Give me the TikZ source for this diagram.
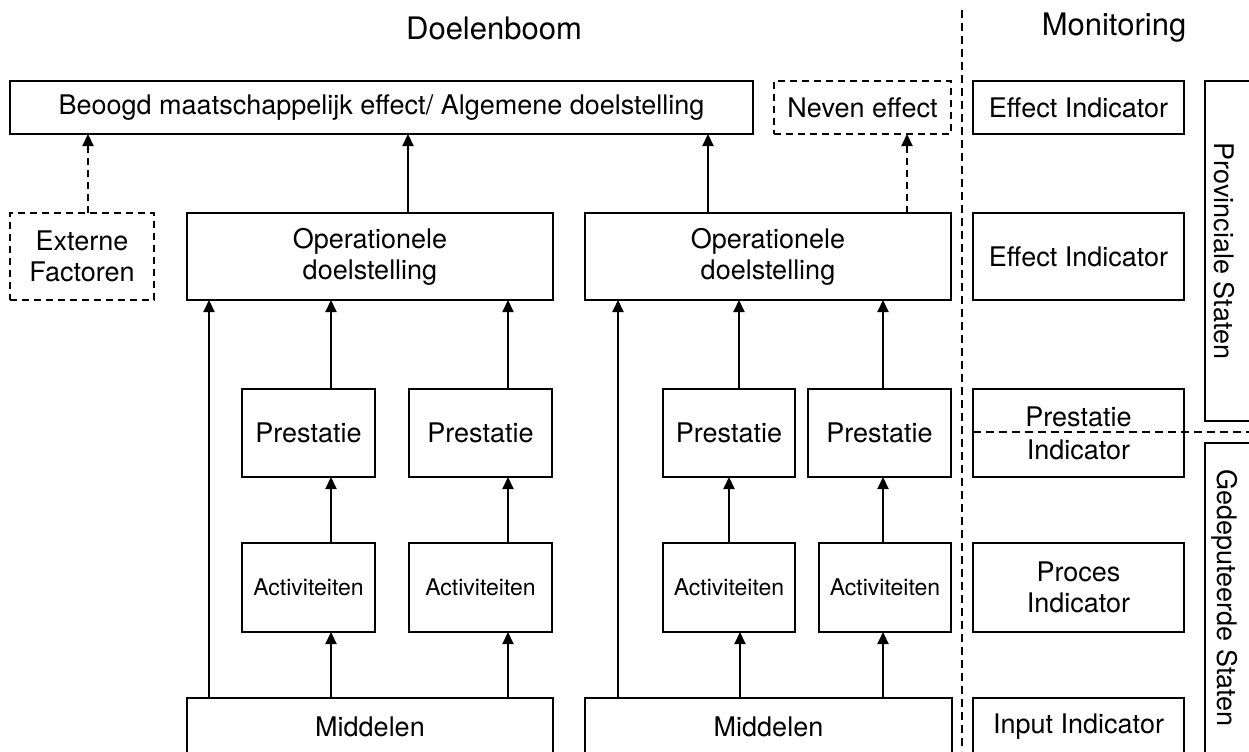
\documentclass[tikz,border=0pt]{standalone}
\usepackage{fontspec}
\setmainfont{TeX Gyre Heros}
\usetikzlibrary{arrows.meta}
\begin{document}
\begin{tikzpicture}[x=0.5pt,y=-0.5pt,
  box/.style={draw,line width=1.1pt,inner sep=0pt,outer sep=0pt,align=center,font=\fontsize{13.5}{15.5}\selectfont},
  dbox/.style={box,dash pattern=on 3.5pt off 2.5pt},
  small/.style={font=\fontsize{11.5}{13.5}\selectfont},
  mbox/.style={box,line width=0.9pt},
  arr/.style={line width=1.1pt,-{Triangle[length=6pt,width=5.5pt]}},
  darr/.style={arr,dash pattern=on 3.5pt off 2.5pt},
  sep/.style={line width=0.9pt,dash pattern=on 4pt off 2.5pt},
  title/.style={font=\fontsize{15.5}{18}\selectfont,inner sep=0pt},
  side/.style={font=\fontsize{13.5}{15.5}\selectfont,rotate=-90,inner sep=0pt}
]
\useasboundingbox (0,0) rectangle (1249,751);
\clip (0,0) rectangle (1249,751);
% titles
\node[title] (t1) at (494,28) {Doelenboom};
\node[title] (t2) at (1114,28) {Monitoring};
% separator
\coordinate (s1) at (962,10);
\coordinate (s2) at (962,751);
\draw[sep] (s1) -- (s2);
% doelenboom boxes
\node[box,minimum width=371.5pt,minimum height=26.5pt] (top) at (381.5,107.5) {Beoogd maatschappelijk effect/ Algemene doelstelling};
\node[dbox,minimum width=88.5pt,minimum height=26.5pt] (nev) at (862.5,107.5) {Neven effect};
\node[dbox,minimum width=72pt,minimum height=43.5pt] (ext) at (82,256.5) {Externe\\Factoren};
\node[box,minimum width=183pt,minimum height=43.5pt] (op1) at (370,256.5) {Operationele\\doelstelling};
\node[box,minimum width=183pt,minimum height=43.5pt] (op2) at (768,256.5) {Operationele\\doelstelling};
\node[box,minimum width=66.5pt,minimum height=44pt] (p1) at (308.5,433) {Prestatie};
\node[box,minimum width=71.5pt,minimum height=44pt] (p2) at (480.5,433) {Prestatie};
\node[box,minimum width=66pt,minimum height=44pt] (p3) at (729,433) {Prestatie};
\node[box,minimum width=71.5pt,minimum height=44pt] (p4) at (879.5,433) {Prestatie};
\node[box,small,minimum width=66.5pt,minimum height=44.5pt] (a1) at (308.5,587.5) {Activiteiten};
\node[box,small,minimum width=71.5pt,minimum height=44.5pt] (a2) at (480.5,587.5) {Activiteiten};
\node[box,small,minimum width=66pt,minimum height=44.5pt] (a3) at (729,587.5) {Activiteiten};
\node[box,small,minimum width=66pt,minimum height=44.5pt] (a4) at (885,587.5) {Activiteiten};
\node[box,minimum width=183pt,minimum height=29pt] (m1) at (370,727) {Middelen};
\node[box,minimum width=183.5pt,minimum height=29pt] (m2) at (768.5,727) {Middelen};
% monitoring boxes
\node[mbox,minimum width=105.5pt,minimum height=26.5pt] (mi1) at (1078.5,107.5) {Effect Indicator};
\node[mbox,minimum width=105.5pt,minimum height=43.5pt] (mi2) at (1078.5,256.5) {Effect Indicator};
\node[mbox,minimum width=105.5pt,minimum height=44pt] (mi3) at (1078.5,433) {Prestatie\\[1pt]Indicator};
\node[mbox,minimum width=105.5pt,minimum height=44.5pt] (mi4) at (1078.5,587.5) {Proces\\Indicator};
\node[mbox,minimum width=105.5pt,minimum height=29pt] (mi5) at (1078.5,727) {Input Indicator};
% side brackets
\draw[line width=0.9pt] (1290,81) -- (1205,81) -- (1205,421) -- (1290,421);
\draw[line width=0.9pt] (1290,443) -- (1205,443) -- (1205,800);
\node[side] (ps) at (1224,251) {Provinciale Staten};
\node[side] (gs) at (1225,598) {Gedeputeerde Staten};
\coordinate (e1) at (1249,432);
\draw[sep] (mi3.west |- e1) -- (e1);
% column coordinates
\coordinate (x88) at (88,0);
\coordinate (x209) at (209,0);
\coordinate (x331) at (331,0);
\coordinate (x408) at (408,0);
\coordinate (x508) at (508,0);
\coordinate (x618) at (618,0);
\coordinate (x708) at (708,0);
\coordinate (x729) at (729,0);
\coordinate (x739) at (739,0);
\coordinate (x740) at (740,0);
\coordinate (x883) at (883,0);
\coordinate (x907) at (907,0);
% arrows to top
\draw[darr] (ext.north -| x88) -- (top.south -| x88);
\draw[arr] (op1.north -| x408) -- (top.south -| x408);
\draw[arr] (op2.north -| x708) -- (top.south -| x708);
\draw[darr] (op2.north -| x907) -- (nev.south -| x907);
% left tree
\draw[arr] (m1.north -| x209) -- (op1.south -| x209);
\draw[arr] (p1.north -| x331) -- (op1.south -| x331);
\draw[arr] (a1.north -| x331) -- (p1.south -| x331);
\draw[arr] (m1.north -| x331) -- (a1.south -| x331);
\draw[arr] (p2.north -| x508) -- (op1.south -| x508);
\draw[arr] (a2.north -| x508) -- (p2.south -| x508);
\draw[arr] (m1.north -| x508) -- (a2.south -| x508);
% right tree
\draw[arr] (m2.north -| x618) -- (op2.south -| x618);
\draw[arr] (p3.north -| x739) -- (op2.south -| x739);
\draw[arr] (a3.north -| x729) -- (p3.south -| x729);
\draw[arr] (m2.north -| x740) -- (a3.south -| x740);
\draw[arr] (p4.north -| x883) -- (op2.south -| x883);
\draw[arr] (a4.north -| x883) -- (p4.south -| x883);
\draw[arr] (m2.north -| x883) -- (a4.south -| x883);
\end{tikzpicture}
\end{document}
